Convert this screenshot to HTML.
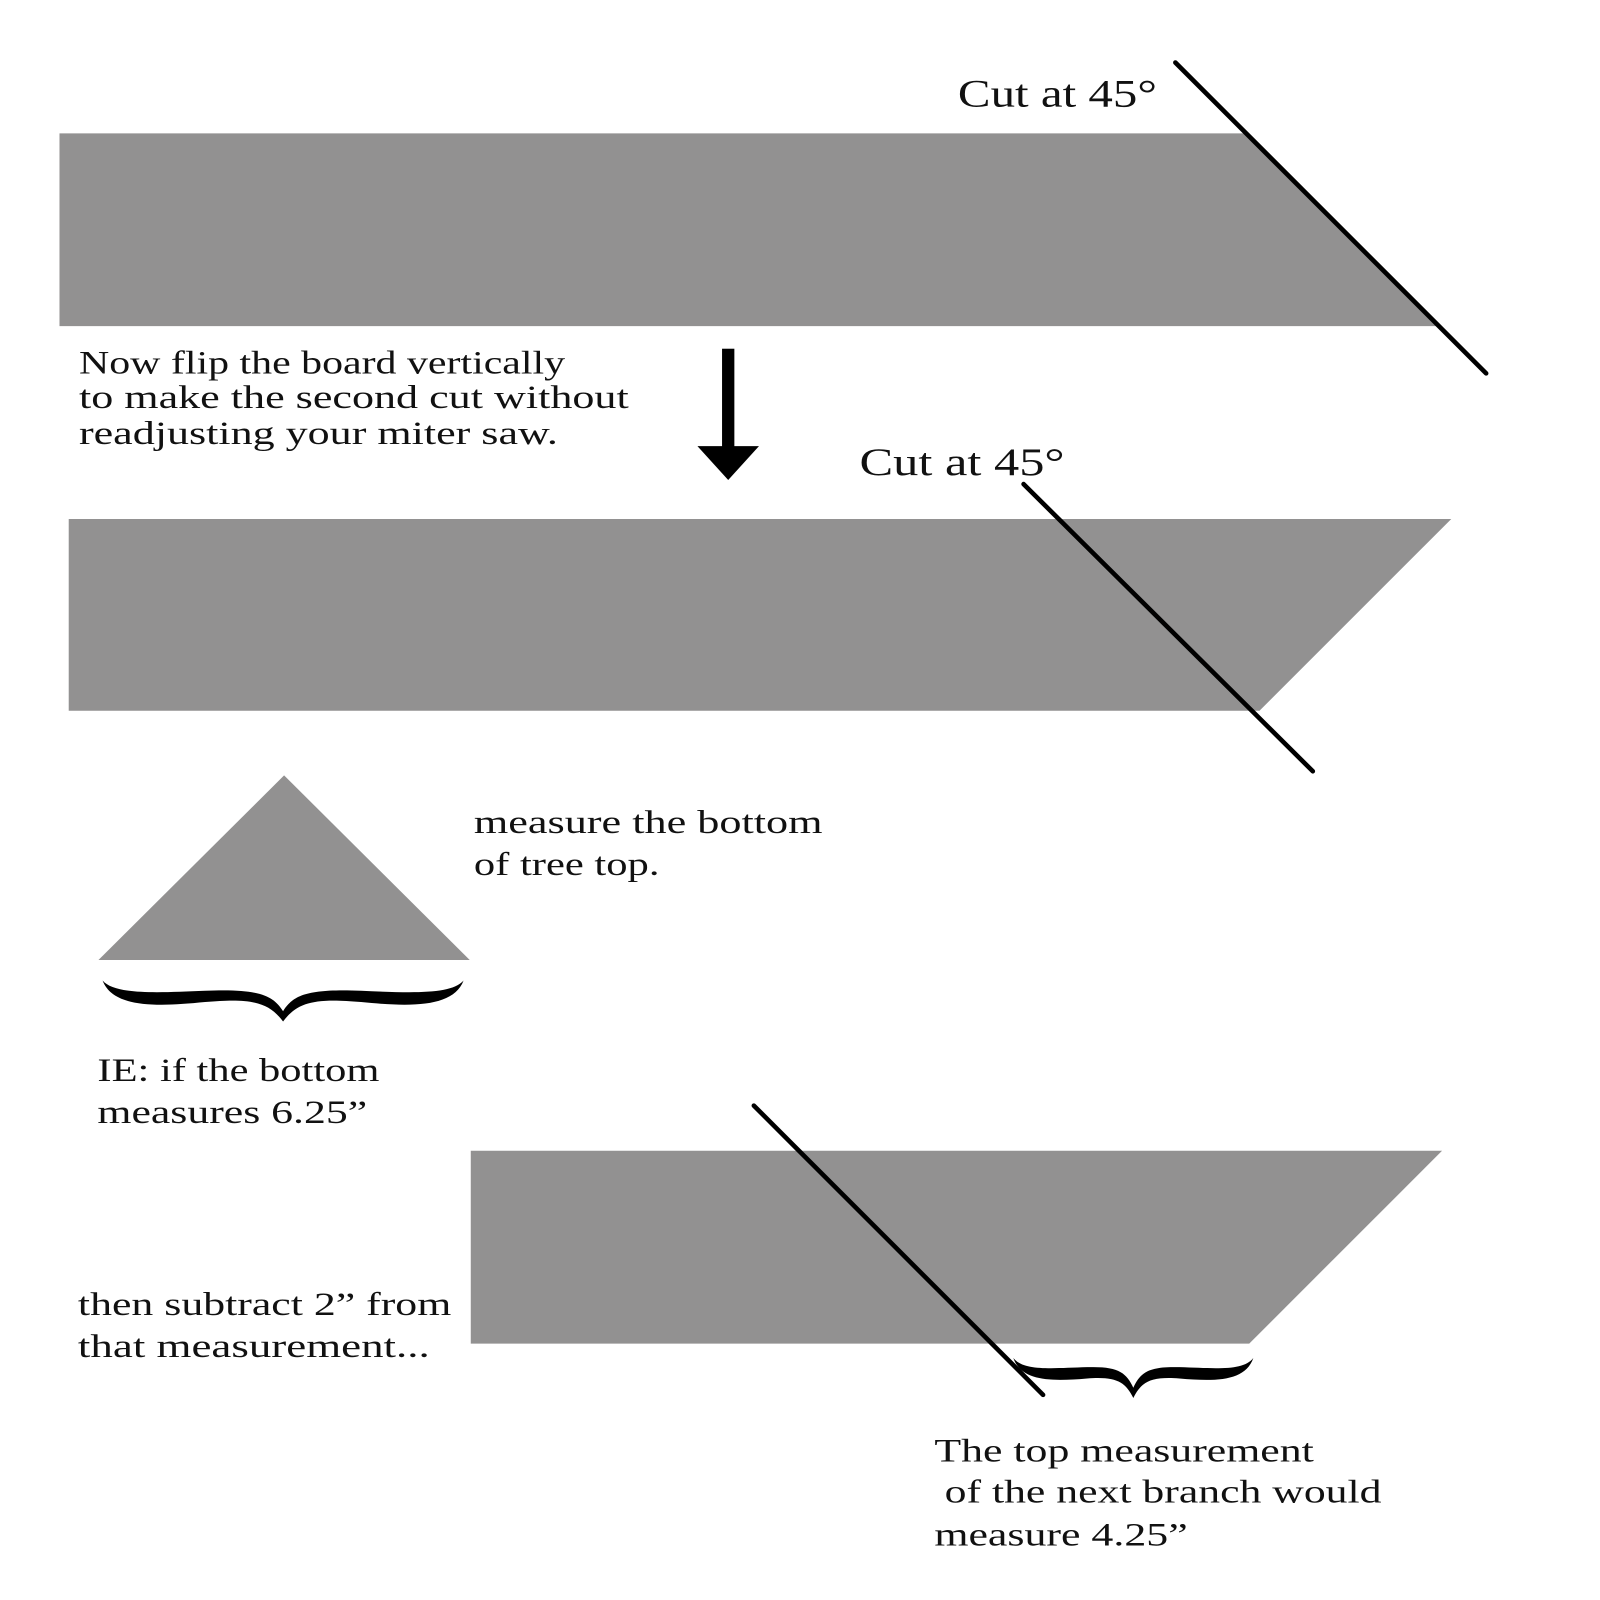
<!DOCTYPE html>
<html><head><meta charset="utf-8"><style>
html,body{margin:0;padding:0;background:#fff;}
svg{display:block;}
text{font-family:"Liberation Serif",serif;fill:#111;}
</style></head><body>
<svg width="1600" height="1600" viewBox="0 0 1560 1560" xmlns="http://www.w3.org/2000/svg">
<rect width="1560" height="1560" fill="#fff"/>
<g fill="#929191">
<polygon points="58,130 1213,130 1401,318 58,318"/>
<polygon points="67,506 1415,506 1228,693 67,693"/>
<polygon points="277,756 458,936 96,936"/>
<polygon points="459,1122 1406,1122 1218,1310 459,1310"/>
</g>
<g stroke="#000" stroke-width="4.5" stroke-linecap="round">
<line x1="1146" y1="61" x2="1449" y2="364"/>
<line x1="998" y1="472" x2="1280" y2="752"/>
<line x1="735" y1="1078" x2="1017" y2="1360"/>
</g>
<rect x="704" y="340" width="12" height="100" fill="#000"/>
<polygon points="680,435 740,435 710,468" fill="#000"/>
<g fill="#000">
<path d="M100,956 C110,982 150,982 200,977 C245,973 262,977 276,996 C290,977 307,973 352,977 C402,982 442,982 452,956 C440,970 400,968 352,966 C300,964 286,970 276,986 C266,970 252,964 200,966 C152,968 112,970 100,956 Z"/>
<path d="M988,1324 C996,1347 1025,1347 1060,1344 C1088,1342 1097,1347 1105,1363 C1113,1347 1122,1342 1150,1344 C1185,1347 1214,1347 1222,1324 C1212,1337 1185,1334 1150,1333 C1120,1332 1112,1338 1105,1353 C1098,1338 1090,1332 1060,1333 C1025,1334 998,1337 988,1324 Z"/>
</g>
<text x="934" y="104" font-size="38" textLength="194" lengthAdjust="spacingAndGlyphs">Cut at 45°</text>
<text x="838" y="463" font-size="38" textLength="200" lengthAdjust="spacingAndGlyphs">Cut at 45°</text>
<g font-size="32">
<text x="77" y="364" textLength="474" lengthAdjust="spacingAndGlyphs">Now flip the board vertically</text>
<text x="77" y="398" textLength="536" lengthAdjust="spacingAndGlyphs">to make the second cut without</text>
<text x="77" y="433" textLength="467" lengthAdjust="spacingAndGlyphs">readjusting your miter saw.</text>
<text x="462" y="812" textLength="340" lengthAdjust="spacingAndGlyphs">measure the bottom</text>
<text x="462" y="853" textLength="181" lengthAdjust="spacingAndGlyphs">of tree top.</text>
<text x="95" y="1054" textLength="275" lengthAdjust="spacingAndGlyphs">IE: if the bottom</text>
<text x="95" y="1095" textLength="263" lengthAdjust="spacingAndGlyphs">measures 6.25”</text>
<text x="76" y="1282" textLength="364" lengthAdjust="spacingAndGlyphs">then subtract 2” from</text>
<text x="76" y="1323" textLength="343" lengthAdjust="spacingAndGlyphs">that measurement...</text>
<text x="911" y="1425" textLength="370" lengthAdjust="spacingAndGlyphs">The top measurement</text>
<text x="921" y="1465" textLength="426" lengthAdjust="spacingAndGlyphs">of the next branch would</text>
<text x="911" y="1507" textLength="247" lengthAdjust="spacingAndGlyphs">measure 4.25”</text>
</g>
</svg>
</body></html>
